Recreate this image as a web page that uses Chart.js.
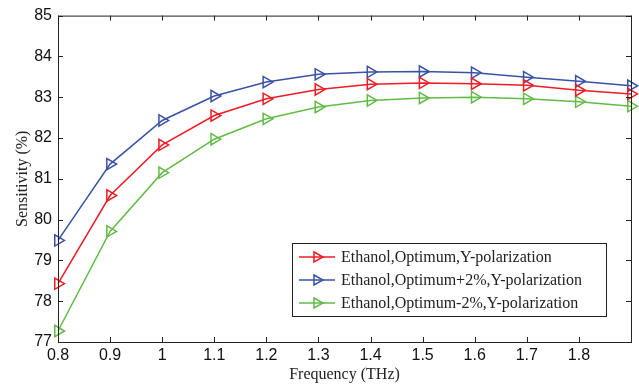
<!DOCTYPE html>
<html>
<head>
<meta charset="utf-8">
<script src="https://cdn.jsdelivr.net/npm/chart.js@4"></script>
<style>
  html, body { margin: 0; padding: 0; background: #fff; }
  #wrap { width: 639px; height: 389px; }
</style>
</head>
<body>
<div id="wrap"><canvas id="sens-chart"></canvas></div>
<script>
const freq = [0.8, 0.9, 1.0, 1.1, 1.2, 1.3, 1.4, 1.5, 1.6, 1.7, 1.8, 1.9];
const optimum = [78.43, 80.59, 81.83, 82.55, 82.96, 83.19, 83.32, 83.35, 83.33, 83.29, 83.17, 83.08];
const optimumPlus2 = [79.49, 81.36, 82.43, 83.03, 83.37, 83.56, 83.62, 83.63, 83.6, 83.49, 83.39, 83.28];
const optimumMinus2 = [77.27, 79.71, 81.15, 81.97, 82.47, 82.76, 82.92, 82.98, 83.0, 82.96, 82.89, 82.78];
const seriesNames = ['Ethanol,Optimum,Y-polarization', 'Ethanol,Optimum+2%,Y-polarization', 'Ethanol,Optimum-2%,Y-polarization'];
const colors = ['#ee1c24', '#3953a4', '#62bb47'];

function toPoints(ys) {
    return freq.map((x, i) => ({ x: x, y: ys[i] }));
}

function makeSet(label, ys, color) {
    return {
        label: label,
        data: toPoints(ys),
        borderColor: color,
        backgroundColor: 'rgba(255,255,255,0)',
        borderWidth: 1.5,
        pointStyle: 'triangle',
        rotation: 90,
        pointRadius: 6.5,
        pointBorderWidth: 1.5,
        pointBackgroundColor: 'rgba(255,255,255,0)',
        pointBorderColor: color,
        tension: 0,
        clip: false
    };
}

// box around plot + inward ticks on all four sides + matlab style legend
const framePlugin = {
    id: 'frame',
    afterDraw(chart) {
        const ctx = chart.ctx;
        const a = chart.chartArea;
        const xs = chart.scales.x, ys = chart.scales.y;
        ctx.save();
        ctx.strokeStyle = '#222';
        ctx.lineWidth = 1;
        ctx.strokeRect(a.left + 0.5, a.top + 0.5, a.right - a.left, a.bottom - a.top);
        const t = 5;
        ctx.beginPath();
        xs.ticks.forEach(tk => {
            const px = Math.round(xs.getPixelForValue(tk.value)) + 0.5;
            ctx.moveTo(px, a.bottom); ctx.lineTo(px, a.bottom - t);
            ctx.moveTo(px, a.top); ctx.lineTo(px, a.top + t);
        });
        ys.ticks.forEach(tk => {
            const py = Math.round(ys.getPixelForValue(tk.value)) + 0.5;
            ctx.moveTo(a.left, py); ctx.lineTo(a.left + t, py);
            ctx.moveTo(a.right, py); ctx.lineTo(a.right - t, py);
        });
        ctx.stroke();

        // legend
        const lx = 292, ly = 243, lw = 314, lh = 73;
        ctx.fillStyle = '#fff';
        ctx.fillRect(lx, ly, lw, lh);
        ctx.strokeStyle = '#222';
        ctx.strokeRect(lx + 0.5, ly + 0.5, lw, lh);
        ctx.font = '16px "Liberation Serif", "Times New Roman", serif';
        ctx.textBaseline = 'middle';
        chart.data.datasets.forEach((ds, i) => {
            const cy = ly + 14 + i * 23;
            ctx.strokeStyle = ds.borderColor;
            ctx.lineWidth = 1.5;
            ctx.beginPath();
            ctx.moveTo(lx + 7, cy); ctx.lineTo(lx + 43, cy);
            ctx.stroke();
            ctx.beginPath();
            ctx.moveTo(lx + 22, cy - 5);
            ctx.lineTo(lx + 31, cy);
            ctx.lineTo(lx + 22, cy + 5);
            ctx.closePath();
            ctx.stroke();
            ctx.fillStyle = '#222';
            ctx.fillText(ds.label, lx + 49, cy + 1);
        });
        ctx.restore();
    }
};

const ctx1 = document.getElementById('sens-chart').getContext('2d');
const sensChart = new Chart(ctx1, {
    type: 'line',
    data: {
        datasets: [
            makeSet(seriesNames[0], optimum, colors[0]),
            makeSet(seriesNames[1], optimumPlus2, colors[1]),
            makeSet(seriesNames[2], optimumMinus2, colors[2])
        ]
    },
    options: {
        responsive: true,
        maintainAspectRatio: false,
        animation: false,
        layout: { padding: { left: 0, top: 14, right: 5, bottom: 0 } },
        plugins: {
            legend: { display: false },
            tooltip: { enabled: false }
        },
        scales: {
            x: {
                type: 'linear',
                min: 0.8,
                max: 1.9,
                grid: { display: false, drawTicks: false, tickLength: 0 },
                border: { display: false },
                afterFit: s => { s.height = 47; },
                ticks: {
                    stepSize: 0.1,
                    padding: 4,
                    maxRotation: 0,
                    color: '#111',
                    font: { family: '"Liberation Sans", Arial, sans-serif', size: 16 },
                    callback: v => v > 1.85 ? '' : String(Math.round(v * 10) / 10)
                },
                title: {
                    display: true,
                    text: 'Frequency (THz)',
                    color: '#222',
                    padding: { top: 0, bottom: 5 },
                    font: { family: '"Liberation Serif", "Times New Roman", serif', size: 16 }
                }
            },
            y: {
                min: 77,
                max: 85,
                grid: { display: false, drawTicks: false, tickLength: 0 },
                border: { display: false },
                afterFit: s => { s.width = 58; },
                ticks: {
                    stepSize: 1,
                    padding: 6,
                    color: '#111',
                    font: { family: '"Liberation Sans", Arial, sans-serif', size: 16 }
                },
                title: {
                    display: true,
                    text: 'Sensitivity (%)',
                    color: '#222',
                    padding: { top: 13, bottom: 0 },
                    font: { family: '"Liberation Serif", "Times New Roman", serif', size: 16 }
                }
            }
        }
    },
    plugins: [framePlugin]
});
</script>
</body>
</html>
